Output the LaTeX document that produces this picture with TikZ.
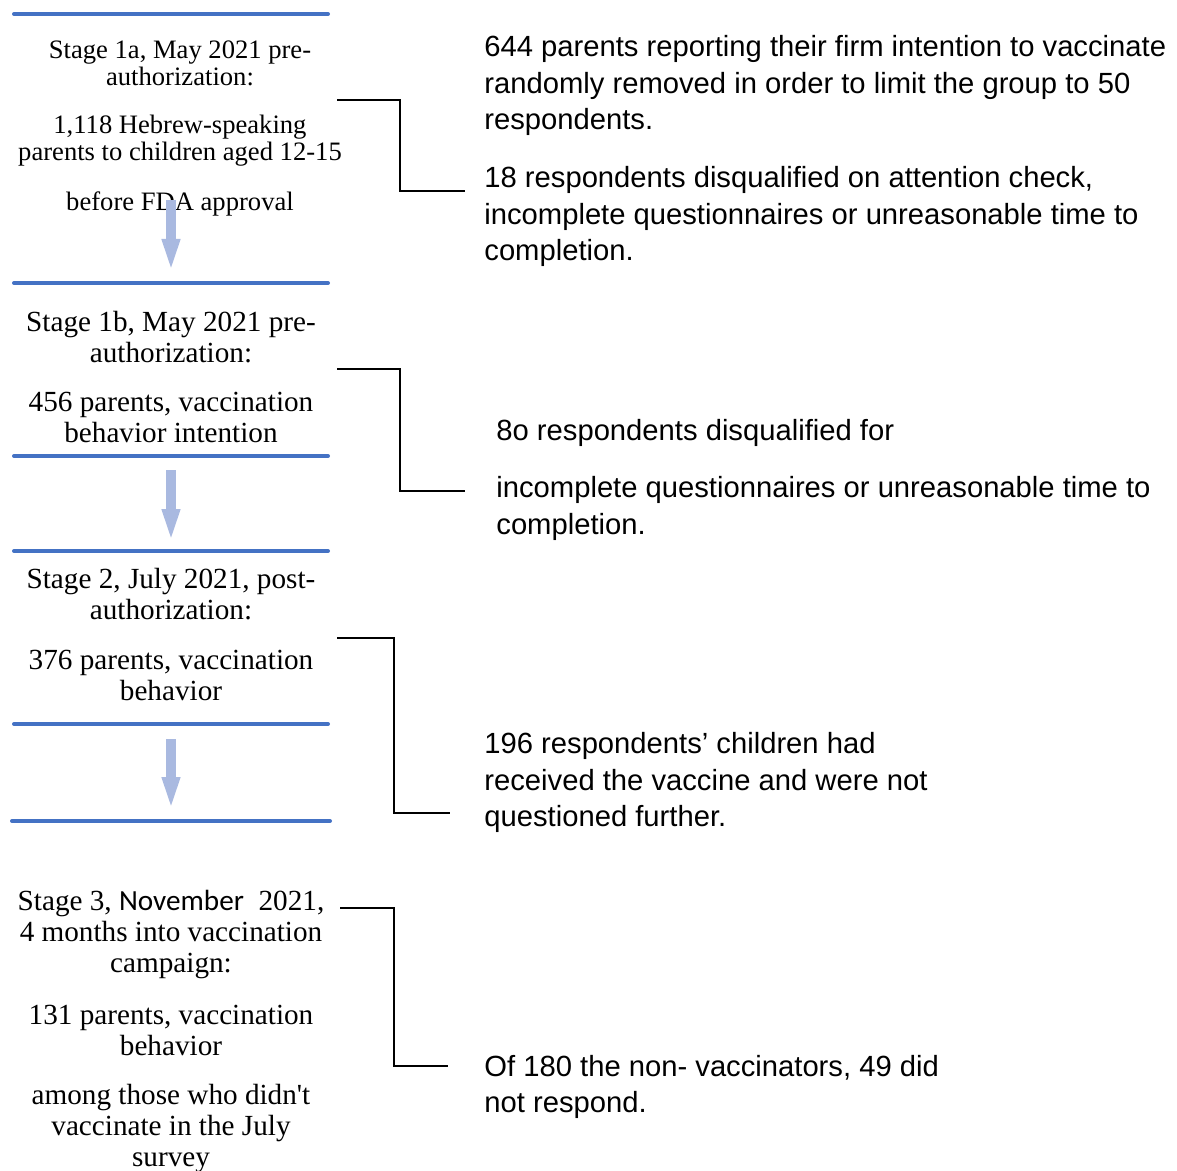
\documentclass[tikz,border=0pt]{standalone}
\usepackage{fontspec}
\setmainfont{Liberation Serif}
\newfontfamily\arialfont{Liberation Sans}
\newfontfamily\calibrifont{Carlito}
\usetikzlibrary{arrows.meta}
\definecolor{ruleblue}{RGB}{68,114,196}
\definecolor{flowblue}{RGB}{169,185,224}

\begin{document}
\begin{tikzpicture}
  [
    x=0.5pt, y=-0.5pt,
    stage/.style={
      align=center, inner sep=0pt,
      font=\fontsize{14.6}{15.5}\selectfont,
    },
    stagesmall/.style={
      align=center, inner sep=0pt,
      font=\fontsize{13.3}{13.8}\selectfont,
    },
    note/.style={
      align=left, anchor=west, inner sep=0pt,
      font=\arialfont\fontsize{14.6}{18.25}\selectfont,
    },
    rule/.style={
      draw=ruleblue, line width=2pt, line cap=round
    },
    flow/.style={
      draw=flowblue, line width=5pt,
      -{Triangle[width=8pt,length=17pt]}
    },
    elbow/.style={
      draw=black, line width=1pt
    }
  ]
\useasboundingbox (0,0) rectangle (1177,1171);

% Stage 1a
\draw [rule] (14,14) -- (328,14);
\node (s1a)  [stagesmall] at (180,63.5) {Stage 1a, May 2021 pre-\\authorization:};
\node (s1an) [stagesmall] at (180,140.5) {1,118 Hebrew-speaking\\parents to children aged 12-15};
\node (s1af) [stagesmall] at (180,203.5) {before FDA approval};

% Stage 1b
\draw [rule] (14,283) -- (328,283);
\node (s1b)  [stage] at (171,337) {Stage 1b, May 2021 pre-\\authorization:};
\node (s1bn) [stage] at (171,417.5) {456 parents, vaccination\\behavior intention};
\draw [rule] (14,456) -- (328,456);

% Stage 2
\draw [rule] (14,551) -- (328,551);
\node (s2)  [stage] at (171,594) {Stage 2, July 2021, post-\\authorization:};
\node (s2n) [stage] at (171,675) {376 parents, vaccination\\behavior};
\draw [rule] (14,724) -- (328,724);

% Stage 3
\draw [rule] (12,821) -- (330,821);
\node (s3)  [stage] at (171,935)    {Stage 3, {\calibrifont November}\ \ 2021,\\4 months into vaccination\\campaign:};
\node (s3n) [stage] at (171,1030.5) {131 parents, vaccination\\behavior};
\node (s3w) [stage] at (171,1129)   {among those who didn\textquotesingle t\\vaccinate in the July\\survey};

% Exclusions
\node (r1)  [note] at (484,85.5)  {644 parents reporting their firm intention to vaccinate\\randomly removed in order to limit the group to 50\\respondents.};
\node (r2)  [note] at (484,216.5) {18 respondents disqualified on attention check,\\incomplete questionnaires or unreasonable time to\\completion.};
\node (r3)  [note] at (496,433)   {8o respondents disqualified for};
\node (r3b) [note] at (496,508.5) {incomplete questionnaires or unreasonable time to\\completion.};
\node (r4)  [note] at (484,782.5) {196 respondents’ children had\\received the vaccine and were not\\questioned further.};
\node (r5)  [note] at (484,1087)  {Of 180 the non- vaccinators, 49 did\\not respond.};

% Flow arrows
\coordinate (f1s) at (171,200);
\coordinate (f1e) at (171,273);
\coordinate (f2s) at (171,470);
\coordinate (f2e) at (171,543);
\coordinate (f3s) at (171,739);
\coordinate (f3e) at (171,811);
\draw [flow] (f1s) -- (f1e);
\draw [flow] (f2s) -- (f2e);
\draw [flow] (f3s) -- (f3e);

% Brackets
\coordinate (b1s) at (337,100);
\coordinate (b1e) at (465,191);
\coordinate (b2s) at (337,369);
\coordinate (b2e) at (465,491);
\coordinate (b3s) at (337,638);
\coordinate (b3e) at (450,813);
\coordinate (b4s) at (340,908);
\coordinate (b4e) at (448,1066);
\draw [elbow] (b1s) -- ++(63,0) |- (b1e);
\draw [elbow] (b2s) -- ++(63,0) |- (b2e);
\draw [elbow] (b3s) -- ++(57,0) |- (b3e);
\draw [elbow] (b4s) -- ++(54,0) |- (b4e);

\end{tikzpicture}
\end{document}
